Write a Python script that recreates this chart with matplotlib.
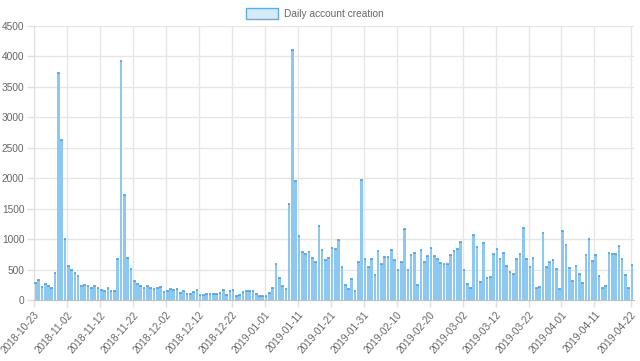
import numpy as np
import pandas as pd
import matplotlib
matplotlib.use("Agg")
import matplotlib.pyplot as plt
import matplotlib.dates as mdates
from matplotlib.patches import Patch

start = "2018-10-23"
# daily new accounts, one value per day from 2018-10-23
counts = [
    278, 322, 213, 257, 224, 191, 448, 3720, 2630, 1005,
    551, 486, 448, 388, 235, 240, 235, 191, 224, 202,
    158, 147, 191, 147, 147, 677, 3930, 1720, 688, 508,
    317, 268, 224, 191, 229, 191, 175, 197, 213, 126,
    142, 175, 158, 180, 115, 147, 98, 93, 126, 158,
    82, 76, 93, 93, 93, 98, 115, 164, 82, 147,
    164, 71, 82, 131, 153, 142, 142, 104, 60, 71,
    60, 115, 202, 595, 360, 224, 175, 1577, 4110, 1960,
    1043, 781, 748, 781, 688, 628, 1210, 819, 661, 683,
    857, 830, 988, 546, 246, 175, 349, 147, 617, 1965,
    672, 546, 677, 410, 803, 590, 710, 710, 819, 655,
    491, 628, 1174, 491, 732, 775, 251, 819, 628, 721,
    846, 721, 666, 612, 595, 584, 743, 803, 830, 945,
    491, 262, 191, 1070, 863, 300, 934, 355, 377, 748,
    830, 666, 764, 562, 453, 426, 677, 748, 1185, 672,
    546, 688, 202, 207, 1108, 541, 622, 655, 502, 186,
    1130, 906, 519, 311, 551, 420, 278, 743, 994, 644,
    743, 399, 191, 224, 770, 748, 753, 879, 677, 410,
    197, 573,
]
tick_labels = [
    "2018-10-23", "2018-11-02", "2018-11-12", "2018-11-22", "2018-12-02",
    "2018-12-12", "2018-12-22", "2019-01-01", "2019-01-11", "2019-01-21",
    "2019-01-31", "2019-02-10", "2019-02-20", "2019-03-02", "2019-03-12",
    "2019-03-22", "2019-04-01", "2019-04-11", "2019-04-22",
]
yticks = list(range(0, 4501, 500))

plt.rcParams["font.family"] = ["Liberation Sans", "DejaVu Sans"]
grey = "#666666"
fs = 7.3

dates = pd.date_range(start, periods=len(counts), freq="D")
x = mdates.date2num(dates.to_pydatetime()) + 0.4
vals = np.array(counts)

fig = plt.figure(figsize=(6.4, 3.61), dpi=100)
ax = fig.add_axes([34 / 640, 1 - 300 / 361, 600 / 640, 274 / 361])

ax.bar(x, vals, width=0.8, color="#8DC8F0", edgecolor="none", zorder=2)
ax.hlines(vals, x - 0.4, x + 0.4, color="#45A4E7", lw=1.2, zorder=3)

x0 = mdates.date2num(pd.Timestamp(start).to_pydatetime())
ax.set_xlim(x0, x0 + 182)
ax.set_ylim(0, 4500)

tick_pos = mdates.date2num(pd.to_datetime(tick_labels).to_pydatetime())
ax.set_xticks(tick_pos)
ax.set_xticklabels(tick_labels, rotation=49, ha="right", rotation_mode="anchor")
ax.set_yticks(yticks)
ax.tick_params(axis="both", colors="#e0e0e0", labelcolor=grey,
               labelsize=fs, length=5, width=1)
ax.tick_params(axis="x", pad=2)
ax.tick_params(axis="y", pad=2)

ax.grid(True, color="#e6e6e6", lw=1, zorder=0)
ax.set_axisbelow(True)
for s in ["top", "right"]:
    ax.spines[s].set_visible(False)
ax.spines["left"].set_color("#e0e0e0")
ax.spines["bottom"].set_color("#c0c0c0")

handle = Patch(facecolor="#d6eafa", edgecolor="#5aaee9", lw=1)
fig.legend([handle], ["Daily account creation"], loc="upper center",
           bbox_to_anchor=(0.492, 1.0), frameon=False, fontsize=fs,
           labelcolor=grey, handlelength=3.2, handleheight=1.2,
           handletextpad=0.6, borderaxespad=0.4)

fig.savefig("out.png", dpi=100)
